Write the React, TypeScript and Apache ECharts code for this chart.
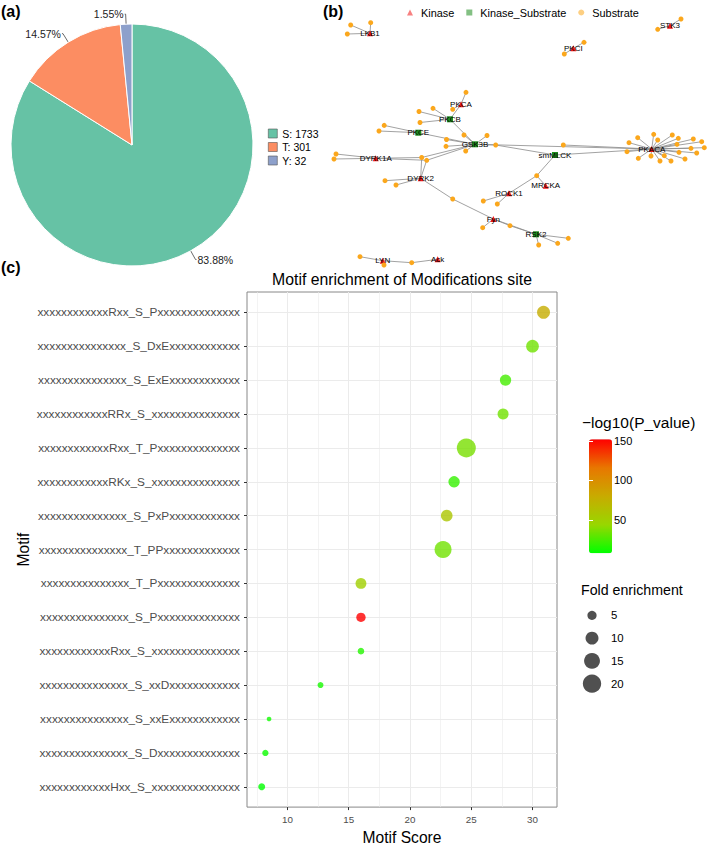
import React, { useEffect, useRef } from "react";
import * as echarts from "echarts";

const FONT = "'Liberation Sans', Arial, Helvetica, sans-serif";

// ---------- (a) residue pie ----------
const residueNames = ["S", "T", "Y"];
const residueCounts = [1733, 301, 32];
const residueColors = ["#66C2A5", "#FC8D62", "#8DA0CB"];

// ---------- (b) kinase network (layout positions) ----------
const kinases: [string, number, number][] = [
  ["LKB1", 370, 33.3],
  ["STK3", 670, 25.7],
  ["PKCI", 573.3, 48.3],
  ["PKCA", 461, 104.3],
  ["DYRK1A", 375.7, 158.3],
  ["DYRK2", 420.7, 178.3],
  ["ROCK1", 509, 193.3],
  ["MRCKA", 545.7, 185.7],
  ["Fyn", 493.3, 219],
  ["LYN", 382.7, 260.7],
  ["Ack", 437.7, 259.3],
  ["PKACA", 651.7, 149],
];
const kinaseSubstrates: [string, number, number][] = [
  ["PKCB", 450, 119.3],
  ["PKCE", 418.3, 132.7],
  ["GSK3B", 475, 144.3],
  ["smMLCK", 555, 155],
  ["RSK2", 536, 234.3],
];
const substrates: [number, number, string[]][] = [
  [350.7, 25, ["LKB1"]], [370.7, 22.7, ["LKB1"]], [347.3, 34, ["LKB1"]],
  [681, 19, ["STK3"]], [657.7, 29.3, ["STK3"]],
  [584, 42.3, ["PKCI"]], [564.3, 54, ["PKCI"]],
  [466, 92.3, ["PKCA"]], [452.7, 109.3, ["PKCA"]],
  [419, 111.5, ["PKCB"]], [433, 108.3, ["PKCB"]], [420, 122.5, ["PKCB"]],
  [384.2, 125.4, ["PKCE"]], [379, 131, ["PKCE"]],
  [464, 135, ["GSK3B"]], [487, 135.5, ["GSK3B"]], [446.5, 139.5, ["GSK3B"]],
  [446, 146.3, ["GSK3B"]], [465.7, 151, ["GSK3B"]],
  [495.7, 145, ["GSK3B", "smMLCK"]],
  [421.7, 157.5, ["DYRK1A", "GSK3B", "DYRK2"]], [426.7, 160.3, ["DYRK1A", "GSK3B", "DYRK2"]],
  [336, 154, ["DYRK1A"]], [334, 159, ["DYRK1A"]],
  [385, 180.7, ["DYRK2"]], [396, 185, ["DYRK2"]],
  [452.7, 199, ["DYRK2", "Fyn"]],
  [482.7, 227.7, ["Fyn"]],
  [510, 225.7, ["Fyn", "RSK2"]],
  [568.3, 238.3, ["RSK2"]], [557.7, 243.3, ["RSK2"]], [538.7, 245, ["RSK2"]],
  [483.3, 201, ["ROCK1"]], [497.3, 204, ["ROCK1"]],
  [536.7, 175.7, ["ROCK1", "MRCKA", "smMLCK"]],
  [563.3, 145, ["PKACA"]],
  [629, 142.7, ["PKACA"]], [637.7, 137.7, ["PKACA"]], [653.7, 134.3, ["PKACA"]],
  [657.7, 140, ["PKACA"]], [672.3, 135, ["PKACA"]], [678.3, 138.3, ["PKACA"]],
  [693.3, 139, ["PKACA"]], [701.7, 141.7, ["PKACA"]], [677, 144.3, ["PKACA"]],
  [691, 148.3, ["PKACA"]], [704.3, 147.7, ["PKACA"]], [679, 152.3, ["PKACA"]],
  [696.7, 153, ["PKACA"]], [664.3, 155.7, ["PKACA"]], [660, 161, ["PKACA"]],
  [671, 161, ["PKACA"]], [685, 159, ["PKACA"]], [651, 156, ["PKACA"]],
  [638.3, 158.3, ["PKACA"]], [627, 151.7, ["PKACA"]],
  [360, 256.7, ["LYN"]], [384, 265, ["LYN"]],
  [411.7, 262.7, ["LYN", "Ack"]],
];
const kinaseLinks: [string, string][] = [
  ["PKCA", "PKCB"],
  ["PKCB", "GSK3B"],
  ["PKCE", "GSK3B"],
  ["PKACA", "GSK3B"],
  ["PKACA", "smMLCK"],
  ["Fyn", "RSK2"],
];
const nodeTypes = ["Kinase", "Kinase_Substrate", "Substrate"];
const nodeTypeColors = ["#F01818", "#1E8C1E", "#FBA71C"];
const nodeTypeSymbols = ["triangle", "rect", "circle"];

// ---------- (c) motif enrichment ----------
const motifs = [
  "xxxxxxxxxxxxRxx_S_Pxxxxxxxxxxxxxx",
  "xxxxxxxxxxxxxxx_S_DxExxxxxxxxxxxx",
  "xxxxxxxxxxxxxxx_S_ExExxxxxxxxxxxx",
  "xxxxxxxxxxxxRRx_S_xxxxxxxxxxxxxxx",
  "xxxxxxxxxxxxRxx_T_Pxxxxxxxxxxxxxx",
  "xxxxxxxxxxxxRKx_S_xxxxxxxxxxxxxxx",
  "xxxxxxxxxxxxxxx_S_PxPxxxxxxxxxxxx",
  "xxxxxxxxxxxxxxx_T_PPxxxxxxxxxxxxx",
  "xxxxxxxxxxxxxxx_T_Pxxxxxxxxxxxxxx",
  "xxxxxxxxxxxxxxx_S_Pxxxxxxxxxxxxxx",
  "xxxxxxxxxxxxRxx_S_xxxxxxxxxxxxxxx",
  "xxxxxxxxxxxxxxx_S_xxDxxxxxxxxxxxx",
  "xxxxxxxxxxxxxxx_S_xxExxxxxxxxxxxx",
  "xxxxxxxxxxxxxxx_S_Dxxxxxxxxxxxxxx",
  "xxxxxxxxxxxxHxx_S_xxxxxxxxxxxxxxx",
];
const motifScore = [30.9, 30.0, 27.8, 27.6, 24.6, 23.6, 23.0, 22.7, 16.0, 16.0, 16.0, 12.7, 8.5, 8.2, 7.9];
const negLog10P = [78, 34, 24, 34, 36, 20, 58, 34, 50, 152, 16, 13, 11, 10, 7.5];
const foldEnrichment = [10, 9.6, 7.6, 7.2, 21.5, 7.6, 8.1, 17.2, 7, 5.2, 2.6, 2.1, 1.3, 2.4, 2.9];
const scoreTicks = [10, 15, 20, 25, 30];
const scoreMinorTicks = [7.5, 12.5, 17.5, 22.5, 27.5];
const scoreRange = [6.7, 32];
const pTicks = [50, 100, 150];
const pRange = [7.5, 152];
const foldTicks = [5, 10, 15, 20];
const gradientColors = ["#00FF00", "#98D700", "#C8AB00", "#E87700", "#FF0000"];

const sizeFor = (v: number) => 4.1 * Math.sqrt(v);

export default function App() {
  const ref = useRef<HTMLDivElement>(null);

  useEffect(() => {
    if (!ref.current) return;
    const chart = echarts.init(ref.current, undefined, { renderer: "svg" });

    const total = residueCounts.reduce((a, b) => a + b, 0);

    const graphNodes: any[] = [
      ...kinases.map(([n, x, y]) => ({
        name: n, x, y, category: 0, symbol: "triangle", symbolSize: 6,
        label: { show: true },
      })),
      ...kinaseSubstrates.map(([n, x, y]) => ({
        name: n, x, y, category: 1, symbol: "rect", symbolSize: 6,
        label: { show: true },
      })),
      ...substrates.map(([x, y], i) => ({
        name: "s" + i, x, y, category: 2, symbol: "circle", symbolSize: 5,
        label: { show: false },
      })),
    ];
    const graphLinks: any[] = [
      ...kinaseLinks.map(([a, b]) => ({ source: a, target: b })),
      ...substrates.flatMap(([, , ks], i) => ks.map((k) => ({ source: k, target: "s" + i }))),
    ];
    const xs = graphNodes.map((n) => n.x);
    const ys = graphNodes.map((n) => n.y);
    const gMinX = Math.min(...xs), gMaxX = Math.max(...xs);
    const gMinY = Math.min(...ys), gMaxY = Math.max(...ys);

    const option: any = {
      animation: false,
      textStyle: { fontFamily: FONT },
      graphic: [
        { type: "text", left: 1, top: 3, style: { text: "(a)", fontSize: 16, fontWeight: "bold", fontFamily: FONT, fill: "#000" } },
        { type: "text", left: 323, top: 3, style: { text: "(b)", fontSize: 16, fontWeight: "bold", fontFamily: FONT, fill: "#000" } },
        { type: "text", left: 1, top: 259, style: { text: "(c)", fontSize: 16, fontWeight: "bold", fontFamily: FONT, fill: "#000" } },
        { type: "text", x: 402, y: 279, style: { text: "Motif enrichment of Modifications site", fontSize: 15.8, fontFamily: FONT, fill: "#000", textAlign: "center", textVerticalAlign: "middle" } },
        { type: "text", x: 582, y: 422, style: { text: "\u2212log10(P_value)", fontSize: 15.5, fontFamily: FONT, fill: "#000", textVerticalAlign: "middle" } },
        { type: "text", x: 581, y: 590, style: { text: "Fold enrichment", fontSize: 14.2, fontFamily: FONT, fill: "#000", textVerticalAlign: "middle" } },
      ],
      legend: [
        {
          data: residueNames,
          orient: "vertical",
          left: 268,
          top: 128,
          padding: 0,
          itemWidth: 9,
          itemHeight: 9,
          itemGap: 2.5,
          icon: "rect",
          selectedMode: false,
          itemStyle: { borderColor: "#555", borderWidth: 0.6 },
          textStyle: { fontSize: 10.5, color: "#000", fontFamily: FONT },
          formatter: (name: string) => `${name}: ${residueCounts[residueNames.indexOf(name)]}`,
        },
        {
          data: nodeTypes.map((n, i) => ({ name: n, icon: nodeTypeSymbols[i] })),
          orient: "horizontal",
          left: 407,
          top: 7,
          padding: 0,
          itemWidth: 6,
          itemHeight: 6,
          itemGap: 12,
          selectedMode: false,
          itemStyle: { opacity: 0.55 },
          textStyle: { fontSize: 10.9, color: "#000", fontFamily: FONT, padding: [0, 0, 0, 3] },
        },
      ],
      visualMap: {
        type: "continuous",
        seriesIndex: 0,
        dimension: 2,
        min: pRange[0],
        max: pRange[1],
        inRange: { color: gradientColors },
        left: 589,
        top: 439.3,
        itemWidth: 23,
        itemHeight: 114,
        padding: 0,
        calculable: false,
        hoverLink: false,
      },
      grid: [
        { left: 247, top: 292, width: 310, height: 524.5, show: true, borderColor: "#888", borderWidth: 1, backgroundColor: "transparent" },
        { left: 589, top: 439.3, width: 23, height: 114, show: false },
        { left: 580, top: 604, width: 24, height: 91, show: false },
      ],
      xAxis: [
        {
          type: "value",
          gridIndex: 0,
          min: scoreRange[0],
          max: scoreRange[1],
          axisLine: { show: false },
          axisTick: { show: true, length: 3, lineStyle: { color: "#333" }, customValues: scoreTicks },
          axisLabel: { customValues: scoreTicks, fontSize: 9.8, color: "#4d4d4d", margin: 7 },
          splitLine: { show: true, lineStyle: { color: "#ebebeb", width: 1 } },
          name: "Motif Score",
          nameLocation: "middle",
          nameGap: 19,
          nameTextStyle: { fontSize: 15.6, color: "#000" },
        },
        { type: "value", gridIndex: 1, show: false, min: 0, max: 1 },
        { type: "category", gridIndex: 2, show: false, data: ["k"] },
      ],
      yAxis: [
        {
          type: "value",
          gridIndex: 0,
          inverse: true,
          min: 0.4,
          max: motifs.length + 0.6,
          axisLine: { show: false },
          axisTick: { show: true, length: 3, lineStyle: { color: "#333" }, customValues: motifs.map((_, i) => i + 1) },
          axisLabel: {
            customValues: motifs.map((_, i) => i + 1),
            formatter: (v: number) => motifs[Math.round(v) - 1] ?? "",
            fontSize: 11.8,
            color: "#4d4d4d",
            margin: 7,
          },
          splitLine: { show: true, lineStyle: { color: "#ebebeb", width: 1 } },
          name: "Motif",
          nameLocation: "middle",
          nameGap: 216,
          nameRotate: 90,
          nameTextStyle: { fontSize: 15.6, color: "#000" },
        },
        {
          type: "value",
          gridIndex: 1,
          min: pRange[0],
          max: pRange[1],
          position: "right",
          z: 10,
          axisLine: { show: false },
          axisTick: { show: true, inside: true, length: 4, lineStyle: { color: "#ffffff", width: 1 }, customValues: pTicks },
          axisLabel: { customValues: pTicks, fontSize: 11, color: "#000", margin: 2 },
          splitLine: { show: false },
        },
        {
          type: "value",
          gridIndex: 1,
          min: pRange[0],
          max: pRange[1],
          position: "left",
          z: 10,
          axisLine: { show: false },
          axisTick: { show: true, inside: true, length: 4, lineStyle: { color: "#ffffff", width: 1 }, customValues: pTicks },
          axisLabel: { show: false },
          splitLine: { show: false },
        },
        {
          type: "category",
          gridIndex: 2,
          data: foldTicks.map(String),
          inverse: true,
          position: "right",
          axisLine: { show: false },
          axisTick: { show: false },
          axisLabel: { fontSize: 11.4, color: "#000", margin: 7 },
          splitLine: { show: false },
        },
      ],
      series: [
        {
          type: "scatter",
          xAxisIndex: 0,
          yAxisIndex: 0,
          z: 5,
          data: motifScore.map((s, i) => [s, i + 1, negLog10P[i], foldEnrichment[i]]),
          symbolSize: (v: number[]) => sizeFor(v[3]),
          itemStyle: { opacity: 0.8 },
          emphasis: { disabled: true },
        },
        {
          type: "scatter",
          xAxisIndex: 0,
          yAxisIndex: 0,
          z: 1,
          data: [],
          markLine: {
            silent: true,
            symbol: "none",
            animation: false,
            label: { show: false },
            lineStyle: { color: "#ebebeb", width: 0.6, type: "solid" },
            data: scoreMinorTicks.map((x) => ({ xAxis: x })),
          },
        },
        {
          type: "scatter",
          xAxisIndex: 2,
          yAxisIndex: 3,
          data: foldTicks.map((v, i) => [0, i, v]),
          symbolSize: (v: number[]) => sizeFor(v[2]),
          itemStyle: { color: "#505050", opacity: 1 },
          emphasis: { disabled: true },
        },
        {
          type: "pie",
          center: [132, 145],
          radius: [0, 121],
          startAngle: 90,
          clockwise: true,
          avoidLabelOverlap: false,
          data: residueNames.map((n, i) => ({ name: n, value: residueCounts[i], itemStyle: { color: residueColors[i] } })),
          itemStyle: { borderColor: "#ffffff", borderWidth: 1 },
          label: {
            show: true,
            position: "outside",
            formatter: (p: any) => ((p.value / total) * 100).toFixed(2) + "%",
            fontSize: 10.5,
            color: "#222",
            distanceToLabelLine: 1,
          },
          labelLine: { show: true, length: 10, length2: 1, lineStyle: { color: "#444", width: 0.8 } },
          emphasis: { disabled: true },
        },
        {
          type: "graph",
          layout: "none",
          left: gMinX,
          top: gMinY,
          width: gMaxX - gMinX,
          height: gMaxY - gMinY,
          roam: false,
          categories: nodeTypes.map((n, i) => ({
            name: n,
            symbol: nodeTypeSymbols[i],
            itemStyle: { color: nodeTypeColors[i] },
          })),
          data: graphNodes,
          links: graphLinks,
          lineStyle: { color: "#8a8a8a", width: 0.8, opacity: 1, curveness: 0 },
          label: { position: "inside", fontSize: 8, color: "#000" },
          emphasis: { disabled: true },
        },
      ],
    };

    chart.setOption(option);
    return () => chart.dispose();
  }, []);

  return <div ref={ref} style={{ position: "absolute", left: 0, top: 0, width: 708, height: 850 }} />;
}
